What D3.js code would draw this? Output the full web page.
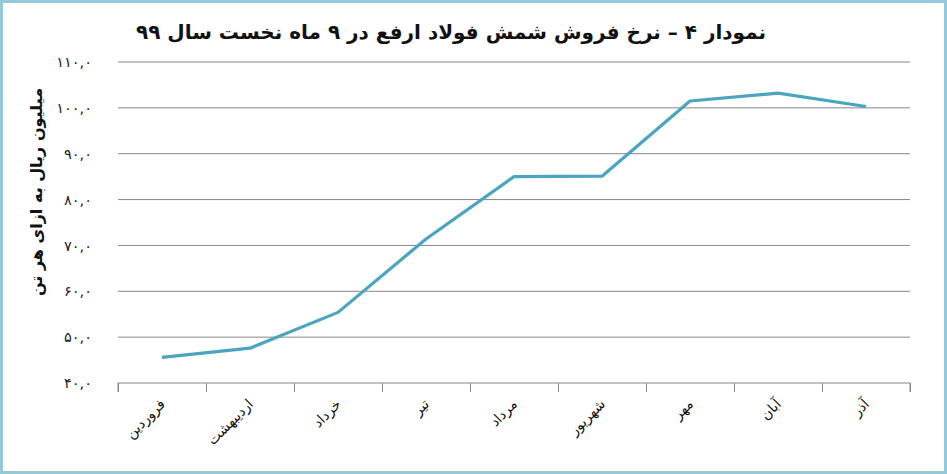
<!DOCTYPE html>
<html><head><meta charset="utf-8">
<script src="https://cdn.jsdelivr.net/npm/d3@7"></script>
<style>body{margin:0;background:#fff}svg{display:block}</style>
</head><body>
<svg id="c" width="947" height="474"></svg>
<script>
const months = ["فروردین","اردیبهشت","خرداد","تیر","مرداد","شهریور","مهر","آبان","آذر"];
const prices = [45.6, 47.6, 55.4, 71.4, 85.0, 85.1, 101.5, 103.2, 100.3];
const yTicks = [40,50,60,70,80,90,100,110];
const titleText = "نمودار ۴ – نرخ فروش شمش فولاد ارفع در ۹ ماه نخست سال ۹۹";
const yTitle = "میلیون ریال به ازای هر تن";

const fa = s => String(s).replace(/\d/g, d => "۰۱۲۳۴۵۶۷۸۹"[d]);
const svg = d3.select("#c");
const W = 947, H = 474;
const m = {l:118, r:37, t:62, b:91};
const x = d3.scaleBand().domain(months).range([m.l, W-m.r]);
const y = d3.scaleLinear().domain([40,110]).range([H-m.b, m.t]);
const font = "'DejaVu Sans', sans-serif";

svg.append("rect").attr("x",1.5).attr("y",1.5).attr("width",W-3).attr("height",H-3)
  .attr("fill","#fff").attr("stroke","#95c8d8").attr("stroke-width",3);

// gridlines
svg.append("g").selectAll("line").data(yTicks.filter(t=>t>40)).join("line")
  .attr("x1",m.l).attr("x2",W-m.r).attr("y1",d=>y(d)).attr("y2",d=>y(d))
  .attr("stroke","#878787").attr("stroke-width",1);

// y tick labels
svg.append("g").selectAll("text").data(yTicks).join("text")
  .attr("x",92).attr("y",d=>y(d)).attr("dy","0.35em").attr("text-anchor","end")
  .attr("font-family",font).attr("font-size",14.5).attr("fill","#222")
  .text(d=>fa(d)+",۰");

// x axis
const xa = d3.axisBottom(d3.scalePoint().domain(d3.range(months.length+1)).range([m.l, W-m.r]))
  .tickSize(9).tickFormat("");
const gx = svg.append("g").attr("transform",`translate(0,${y(40)})`).call(xa);
gx.selectAll("path,line").attr("stroke","#878787");
gx.select("path").attr("d",`M${m.l},9V0H${W-m.r}V9`);

svg.append("g").selectAll("text").data(months).join("text")
  .attr("transform",d=>`translate(${x(d)+x.bandwidth()/2+4},${y(40)+22}) rotate(-45)`)
  .attr("text-anchor","start").attr("font-family",font).attr("font-size",14).attr("fill","#111")
  .attr("direction","rtl")
  .text(d=>d);

// line
const line = d3.line().x((d,i)=>x(months[i])+x.bandwidth()/2).y(d=>y(d));
svg.append("path").datum(prices).attr("d",line).attr("fill","none")
  .attr("stroke","#4ba5c0").attr("stroke-width",3.2).attr("stroke-linejoin","round");

// titles
svg.append("text").attr("x",451).attr("y",39).attr("text-anchor","middle")
  .attr("font-family",font).attr("font-weight","bold").attr("font-size",20).attr("fill","#111")
  .attr("direction","rtl").text(titleText);
svg.append("text").attr("transform",`translate(42,192) rotate(-90)`)
  .attr("text-anchor","middle").attr("font-family",font).attr("font-weight","bold")
  .attr("font-size",16).attr("fill","#111").attr("direction","rtl").text(yTitle);
</script>
</body></html>
